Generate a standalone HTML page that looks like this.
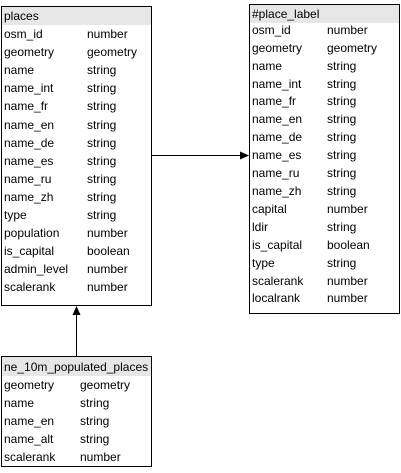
<!DOCTYPE html>
<html><head><style>
body{margin:0;background:#fff}
svg text{font-family:"Liberation Sans",Arial,sans-serif;font-size:12px;fill:#000}
</style></head><body>
<svg width="401" height="468" xmlns="http://www.w3.org/2000/svg">
<!-- places -->
<rect x="1.5" y="6.5" width="150" height="299" fill="#fff" stroke="#000"/>
<rect x="2" y="7" width="149" height="18" fill="#e6e6e6"/>
<text x="4" y="20">places</text>
<g>
<text x="4" y="38">osm_id</text><text x="87" y="38">number</text>
<text x="4" y="56">geometry</text><text x="87" y="56">geometry</text>
<text x="4" y="74">name</text><text x="87" y="74">string</text>
<text x="4" y="92">name_int</text><text x="87" y="92">string</text>
<text x="4" y="110">name_fr</text><text x="87" y="110">string</text>
<text x="4" y="129">name_en</text><text x="87" y="129">string</text>
<text x="4" y="147">name_de</text><text x="87" y="147">string</text>
<text x="4" y="165">name_es</text><text x="87" y="165">string</text>
<text x="4" y="183">name_ru</text><text x="87" y="183">string</text>
<text x="4" y="201">name_zh</text><text x="87" y="201">string</text>
<text x="4" y="219">type</text><text x="87" y="219">string</text>
<text x="4" y="237">population</text><text x="87" y="237">number</text>
<text x="4" y="255">is_capital</text><text x="87" y="255">boolean</text>
<text x="4" y="273">admin_level</text><text x="87" y="273">number</text>
<text x="4" y="291">scalerank</text><text x="87" y="291">number</text>
</g>
<!-- place_label -->
<rect x="249.5" y="4.5" width="150" height="309" fill="#fff" stroke="#000"/>
<rect x="250" y="5" width="149" height="18" fill="#e6e6e6"/>
<text x="252" y="18">#place_label</text>
<text x="252" y="34">osm_id</text><text x="327" y="34">number</text>
<text x="252" y="52">geometry</text><text x="327" y="52">geometry</text>
<text x="252" y="70">name</text><text x="327" y="70">string</text>
<text x="252" y="88">name_int</text><text x="327" y="88">string</text>
<text x="252" y="105">name_fr</text><text x="327" y="105">string</text>
<text x="252" y="123">name_en</text><text x="327" y="123">string</text>
<text x="252" y="141">name_de</text><text x="327" y="141">string</text>
<text x="252" y="159">name_es</text><text x="327" y="159">string</text>
<text x="252" y="177">name_ru</text><text x="327" y="177">string</text>
<text x="252" y="195">name_zh</text><text x="327" y="195">string</text>
<text x="252" y="213">capital</text><text x="327" y="213">number</text>
<text x="252" y="231">ldir</text><text x="327" y="231">string</text>
<text x="252" y="249">is_capital</text><text x="327" y="249">boolean</text>
<text x="252" y="267">type</text><text x="327" y="267">string</text>
<text x="252" y="285">scalerank</text><text x="327" y="285">number</text>
<text x="252" y="302">localrank</text><text x="327" y="302">number</text>
<!-- bottom -->
<rect x="1.5" y="356.5" width="150" height="110" fill="#fff" stroke="#000"/>
<rect x="2" y="357" width="149" height="19" fill="#e6e6e6"/>
<text x="4" y="371">ne_10m_populated_places</text>
<text x="4" y="389">geometry</text><text x="80" y="389">geometry</text>
<text x="4" y="407">name</text><text x="80" y="407">string</text>
<text x="4" y="425">name_en</text><text x="80" y="425">string</text>
<text x="4" y="443">name_alt</text><text x="80" y="443">string</text>
<text x="4" y="461">scalerank</text><text x="80" y="461">number</text>
<!-- connectors -->
<line x1="152" y1="155.5" x2="241" y2="155.5" stroke="#000"/>
<polygon points="249,155.5 240,151.5 240,159.5" fill="#000"/>
<line x1="76.5" y1="356" x2="76.5" y2="314" stroke="#000"/>
<polygon points="76.5,306 72.5,315 80.5,315" fill="#000"/>
</svg>
</body></html>
